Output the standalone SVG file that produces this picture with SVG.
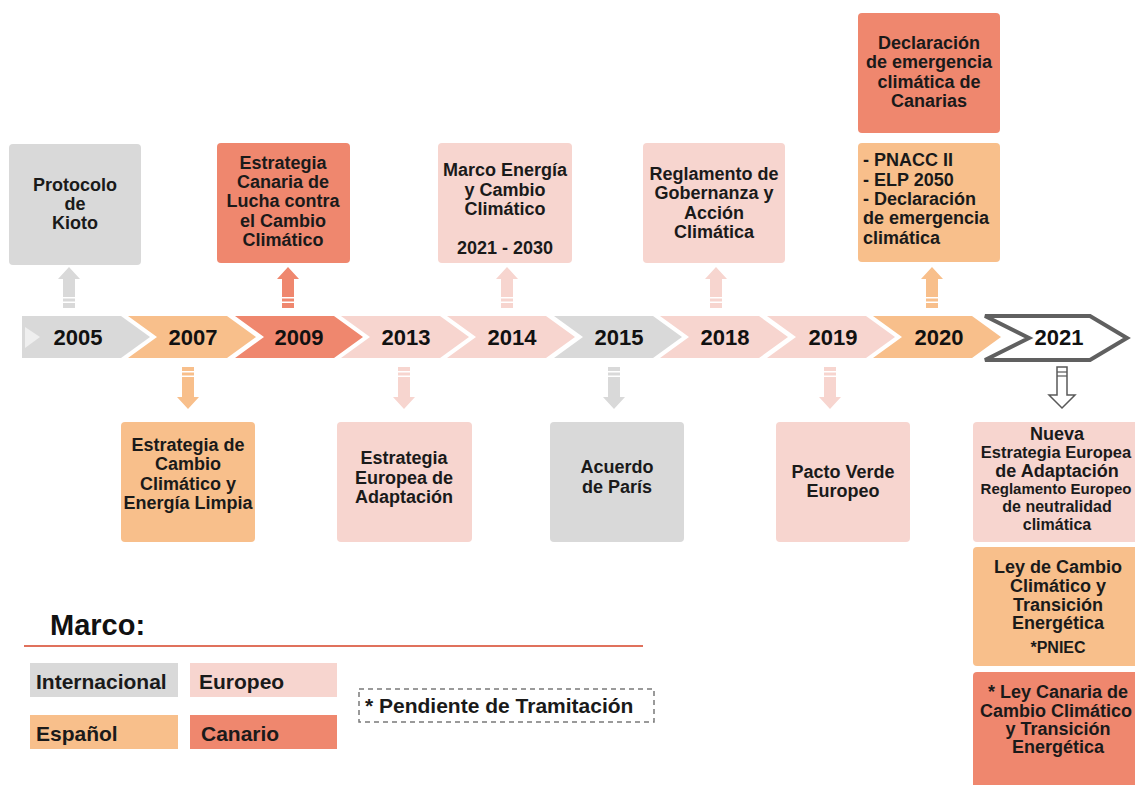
<svg xmlns="http://www.w3.org/2000/svg" width="1135" height="785" viewBox="0 0 1135 785">
<style>
.t{font-family:"Liberation Sans",Arial,sans-serif;font-weight:bold;fill:#1a1a1a;text-anchor:middle;font-size:18px}
.l{text-anchor:start}
.s{font-size:16px}
.m{font-size:16.5px}
.xs{font-size:15px}
.yr{font-family:"Liberation Sans",Arial,sans-serif;font-weight:bold;fill:#111;text-anchor:middle;font-size:22px}
.lg{font-family:"Liberation Sans",Arial,sans-serif;font-weight:bold;fill:#1a1a1a;font-size:21px}
.gr{fill:#d9d9d9}
.eu{fill:#f7d5cf}
.es{fill:#f8bf8b}
.ca{fill:#ef876e}
.stripe{fill:#ffffff}
</style>
<rect width="1135" height="785" fill="#ffffff"/>

<!-- timeline chevrons -->
<g id="timeline">
  <g id="y2005"><polygon class="gr" points="22,316 121,316 150,337 121,358 22,358"/><polygon fill="#efefef" points="25,327 40,337 25,348"/><text class="yr" x="78" y="345">2005</text></g>
  <g id="y2007"><polygon class="es" points="128,316 227,316 256,337 227,358 128,358 157,337"/><text class="yr" x="193" y="345">2007</text></g>
  <g id="y2009"><polygon class="ca" points="235,316 334,316 363,337 334,358 235,358 264,337"/><text class="yr" x="299" y="345">2009</text></g>
  <g id="y2013"><polygon class="eu" points="341,316 440,316 469,337 440,358 341,358 370,337"/><text class="yr" x="406" y="345">2013</text></g>
  <g id="y2014"><polygon class="eu" points="447,316 546,316 575,337 546,358 447,358 476,337"/><text class="yr" x="512" y="345">2014</text></g>
  <g id="y2015"><polygon class="gr" points="554,316 653,316 682,337 653,358 554,358 583,337"/><text class="yr" x="619" y="345">2015</text></g>
  <g id="y2018"><polygon class="eu" points="660,316 759,316 788,337 759,358 660,358 689,337"/><text class="yr" x="725" y="345">2018</text></g>
  <g id="y2019"><polygon class="eu" points="767,316 866,316 895,337 866,358 767,358 796,337"/><text class="yr" x="833" y="345">2019</text></g>
  <g id="y2020"><polygon class="es" points="873,316 972,316 1001,337 972,358 873,358 902,337"/><text class="yr" x="939" y="345">2020</text></g>
  <g id="y2021"><polygon fill="#ffffff" stroke="#606060" stroke-width="4" stroke-linejoin="miter" points="985,316 1090,316 1127,338 1090,360 985,360 1029,338"/><text class="yr" x="1059" y="345">2021</text></g>
</g>

<!-- connectors -->
<g id="connectors">
  <g id="a2005"><path class="gr" d="M69,267 L80,279 L75,279 L75,308 L63,308 L63,279 L58,279 Z"/><rect class="stripe" x="62" y="297" width="14" height="1.5"/><rect class="stripe" x="62" y="301.5" width="14" height="1.5"/></g>
  <g id="a2009"><path class="ca" d="M288,267 L299,279 L294,279 L294,308 L282,308 L282,279 L277,279 Z"/><rect class="stripe" x="281" y="297" width="14" height="1.5"/><rect class="stripe" x="281" y="301.5" width="14" height="1.5"/></g>
  <g id="a2014"><path class="eu" d="M507,267 L518,279 L513,279 L513,308 L501,308 L501,279 L496,279 Z"/><rect class="stripe" x="500" y="297" width="14" height="1.5"/><rect class="stripe" x="500" y="301.5" width="14" height="1.5"/></g>
  <g id="a2018"><path class="eu" d="M716,267 L727,279 L722,279 L722,308 L710,308 L710,279 L705,279 Z"/><rect class="stripe" x="709" y="297" width="14" height="1.5"/><rect class="stripe" x="709" y="301.5" width="14" height="1.5"/></g>
  <g id="a2020"><path class="es" d="M932,267 L943,279 L938,279 L938,308 L926,308 L926,279 L921,279 Z"/><rect class="stripe" x="925" y="297" width="14" height="1.5"/><rect class="stripe" x="925" y="301.5" width="14" height="1.5"/></g>

  <g id="a2007"><path class="es" d="M188,409 L199,397 L194,397 L194,367 L182,367 L182,397 L177,397 Z"/><rect class="stripe" x="181" y="371" width="14" height="1.5"/><rect class="stripe" x="181" y="375.5" width="14" height="1.5"/></g>
  <g id="a2013"><path class="eu" d="M404,409 L415,397 L410,397 L410,367 L398,367 L398,397 L393,397 Z"/><rect class="stripe" x="397" y="371" width="14" height="1.5"/><rect class="stripe" x="397" y="375.5" width="14" height="1.5"/></g>
  <g id="a2015"><path class="gr" d="M614,409 L625,397 L620,397 L620,367 L608,367 L608,397 L603,397 Z"/><rect class="stripe" x="607" y="371" width="14" height="1.5"/><rect class="stripe" x="607" y="375.5" width="14" height="1.5"/></g>
  <g id="a2019"><path class="eu" d="M830,409 L841,397 L836,397 L836,367 L824,367 L824,397 L819,397 Z"/><rect class="stripe" x="823" y="371" width="14" height="1.5"/><rect class="stripe" x="823" y="375.5" width="14" height="1.5"/></g>
  <g id="a2021"><path d="M1062,408 L1075,395 L1067,395 L1067,367 L1057,367 L1057,395 L1049,395 Z" fill="#ffffff" stroke="#595959" stroke-width="1.5" stroke-linejoin="miter"/><line x1="1057" y1="372" x2="1067" y2="372" stroke="#595959" stroke-width="1.2"/><line x1="1057" y1="376" x2="1067" y2="376" stroke="#595959" stroke-width="1.2"/></g>
</g>

<!-- upper boxes -->
<g id="kioto"><rect class="gr" x="9" y="144" width="132" height="121" rx="4"/>
  <text class="t" x="75" y="191">Protocolo</text><text class="t" x="75" y="210">de</text><text class="t" x="75" y="229">Kioto</text></g>
<g id="estrategia-canaria"><rect class="ca" x="217" y="143" width="133" height="120" rx="4"/>
  <text class="t" x="283" y="169">Estrategia</text><text class="t" x="283" y="188">Canaria de</text><text class="t" x="283" y="207">Lucha contra</text><text class="t" x="283" y="227">el Cambio</text><text class="t" x="283" y="246">Climático</text></g>
<g id="marco-energia"><rect class="eu" x="438" y="143" width="134" height="120" rx="4"/>
  <text class="t" x="505" y="176">Marco Energía</text><text class="t" x="505" y="196">y Cambio</text><text class="t" x="505" y="215">Climático</text><text class="t" x="505" y="254">2021 - 2030</text></g>
<g id="reglamento-gobernanza"><rect class="eu" x="643" y="143" width="142" height="120" rx="4"/>
  <text class="t" x="714" y="180">Reglamento de</text><text class="t" x="714" y="199">Gobernanza y</text><text class="t" x="714" y="219">Acción</text><text class="t" x="714" y="238">Climática</text></g>
<g id="declaracion-canarias"><rect class="ca" x="858" y="13" width="142" height="120" rx="4"/>
  <text class="t" x="929" y="49">Declaración</text><text class="t" x="929" y="68">de emergencia</text><text class="t" x="929" y="88">climática de</text><text class="t" x="929" y="107">Canarias</text></g>
<g id="pnacc"><rect class="es" x="858" y="143" width="142" height="119" rx="4"/>
  <text class="t l" x="863" y="166">- PNACC II</text><text class="t l" x="863" y="186">- ELP 2050</text><text class="t l" x="863" y="205">- Declaración</text><text class="t l" x="863" y="224">de emergencia</text><text class="t l" x="863" y="244">climática</text></g>

<!-- lower boxes -->
<g id="estrategia-cambio"><rect class="es" x="121" y="422" width="134" height="120" rx="4"/>
  <text class="t" x="188" y="451">Estrategia de</text><text class="t" x="188" y="470">Cambio</text><text class="t" x="188" y="490">Climático y</text><text class="t" x="188" y="509">Energía Limpia</text></g>
<g id="estrategia-europea"><rect class="eu" x="337" y="422" width="135" height="120" rx="4"/>
  <text class="t" x="404" y="464">Estrategia</text><text class="t" x="404" y="484">Europea de</text><text class="t" x="404" y="503">Adaptación</text></g>
<g id="acuerdo-paris"><rect class="gr" x="550" y="422" width="134" height="120" rx="4"/>
  <text class="t" x="617" y="473">Acuerdo</text><text class="t" x="617" y="493">de París</text></g>
<g id="pacto-verde"><rect class="eu" x="776" y="422" width="134" height="120" rx="4"/>
  <text class="t" x="843" y="478">Pacto Verde</text><text class="t" x="843" y="497">Europeo</text></g>

<g id="nueva-estrategia"><rect class="eu" x="973" y="422" width="172" height="120" rx="4"/>
  <text class="t" x="1057" y="440">Nueva</text><text class="t m" x="1056" y="458">Estrategia Europea</text><text class="t" x="1057" y="477">de Adaptación</text>
  <text class="t xs" x="1056" y="494">Reglamento Europeo</text><text class="t s" x="1057" y="512">de neutralidad</text><text class="t s" x="1057" y="530">climática</text></g>
<g id="ley-cambio"><rect class="es" x="973" y="547" width="172" height="119" rx="4"/>
  <text class="t" x="1058" y="573">Ley de Cambio</text><text class="t" x="1058" y="592">Climático y</text><text class="t" x="1058" y="611">Transición</text><text class="t" x="1058" y="629">Energética</text><text class="t s" x="1058" y="653">*PNIEC</text></g>
<g id="ley-canaria"><rect class="ca" x="973" y="672" width="172" height="125" rx="4"/>
  <text class="t" x="1058" y="698">* Ley Canaria de</text><text class="t" x="1056" y="717">Cambio Climático</text><text class="t" x="1058" y="735">y Transición</text><text class="t" x="1058" y="753">Energética</text></g>

<!-- legend -->
<g id="legend">
  <text x="50" y="635" font-family="Liberation Sans, Arial, sans-serif" font-weight="bold" font-size="29" fill="#111">Marco:</text>
  <line x1="24" y1="646" x2="643" y2="646" stroke="#e0715c" stroke-width="2"/>
  <rect class="gr" x="30" y="663" width="148" height="34"/><text class="lg" x="36" y="689">Internacional</text>
  <rect class="eu" x="190" y="663" width="147" height="34"/><text class="lg" x="199" y="689">Europeo</text>
  <rect class="es" x="30" y="715" width="148" height="34"/><text class="lg" x="36" y="741">Español</text>
  <rect class="ca" x="190" y="715" width="147" height="34"/><text class="lg" x="201" y="741">Canario</text>
  <rect x="359" y="689" width="295" height="33" fill="none" stroke="#7a7a7a" stroke-width="1.5" stroke-dasharray="5,4"/>
  <text class="lg" x="365" y="713">* Pendiente de Tramitación</text>
</g>
</svg>
